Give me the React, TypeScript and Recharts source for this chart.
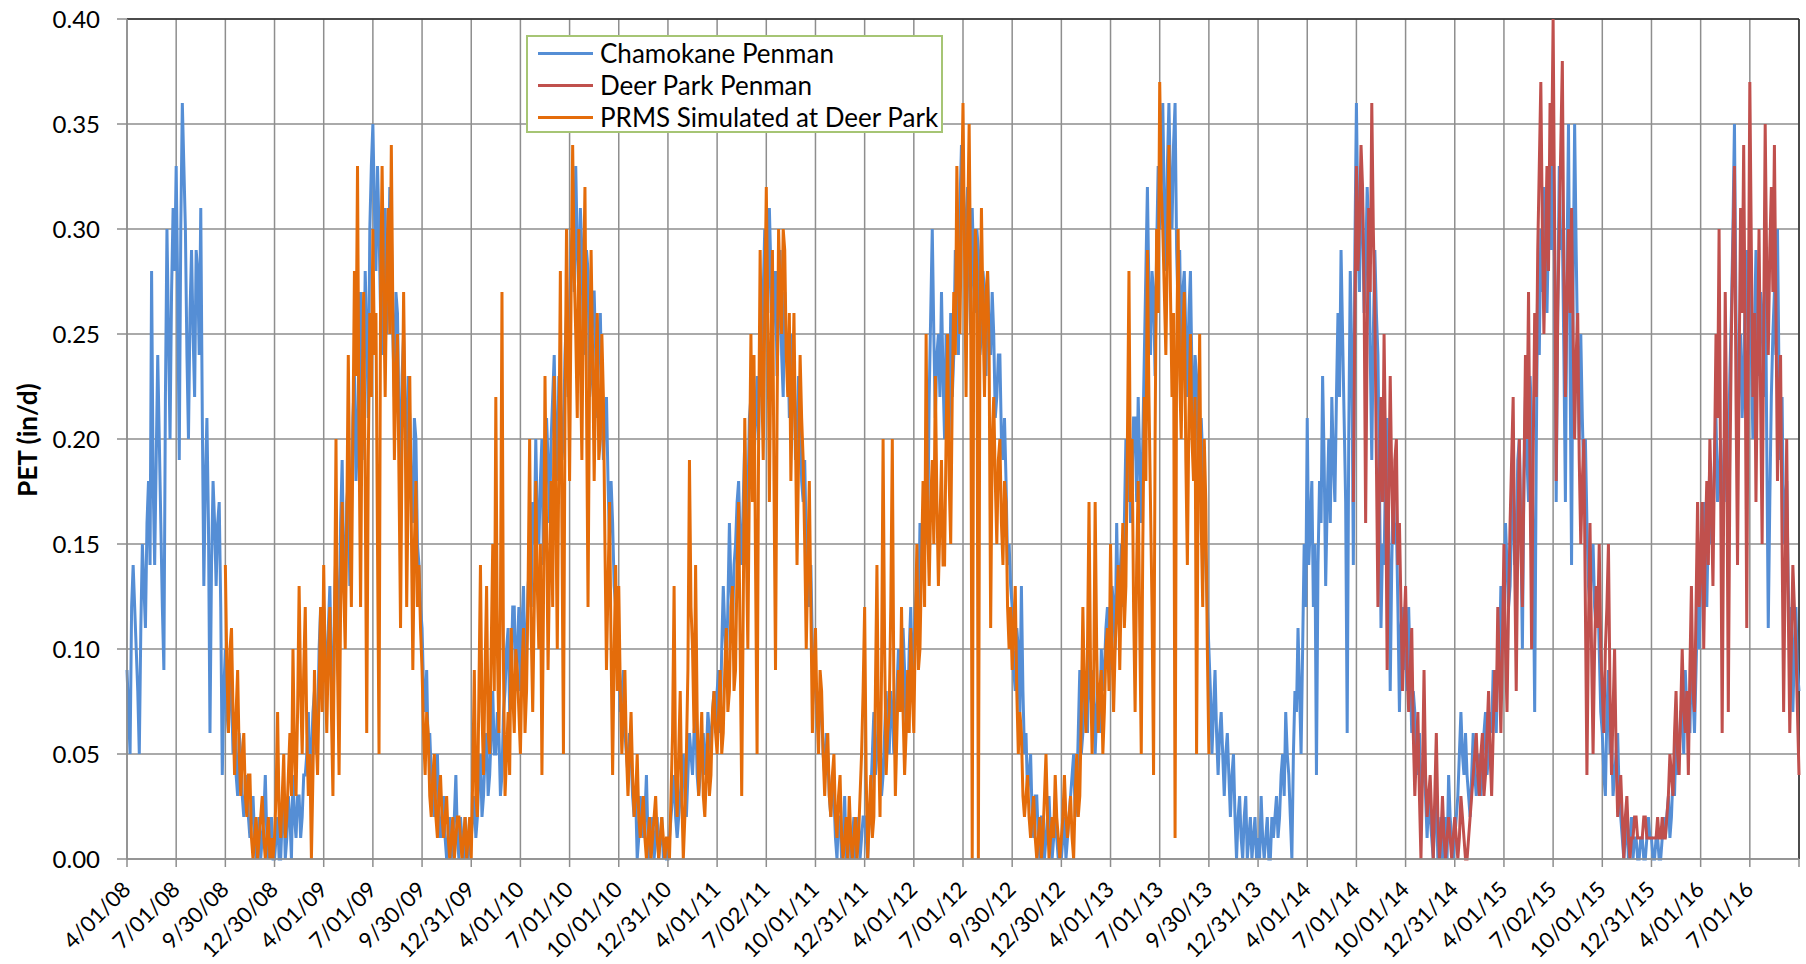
import {
  LineChart,
  Line,
  XAxis,
  YAxis,
  CartesianGrid,
  Legend,
  ReferenceLine,
  Label,
} from "recharts";

// eixo x: um tick a cada trimestre (4/01/08 ... 7/01/16), 32 pontos por trimestre
const tickLabels = [
  "4/01/08", "7/01/08", "9/30/08", "12/30/08",
  "4/01/09", "7/01/09", "9/30/09", "12/31/09",
  "4/01/10", "7/01/10", "10/01/10", "12/31/10",
  "4/01/11", "7/02/11", "10/01/11", "12/31/11",
  "4/01/12", "7/01/12", "9/30/12", "12/30/12",
  "4/01/13", "7/01/13", "9/30/13", "12/31/13",
  "4/01/14", "7/01/14", "10/01/14", "12/31/14",
  "4/01/15", "7/02/15", "10/01/15", "12/31/15",
  "4/01/16", "7/01/16",
];
const N_TICKS = 34;
const PTS_PER_TICK = 32;

const yTicks = [0, 0.05, 0.1, 0.15, 0.2, 0.25, 0.3, 0.35, 0.4];

// Chamokane Penman (in/d), uma linha por trimestre, do 4/01/08 até o fim
const chamokane = [
  0.09, 0.07, 0.05, 0.12, 0.14, 0.12, 0.10, 0.08, 0.05, 0.11, 0.15, 0.13, 0.11, 0.16, 0.18, 0.14, 0.28, 0.18, 0.14, 0.19, 0.24, 0.20, 0.16, 0.12, 0.09, 0.22, 0.30, 0.25, 0.20, 0.27, 0.31, 0.28,
  0.33, 0.27, 0.19, 0.30, 0.36, 0.33, 0.30, 0.24, 0.20, 0.26, 0.29, 0.25, 0.22, 0.29, 0.28, 0.24, 0.31, 0.21, 0.13, 0.18, 0.21, 0.16, 0.06, 0.14, 0.18, 0.16, 0.13, 0.16, 0.17, 0.12, 0.04, 0.08,
  0.10, 0.07, 0.06, 0.09, 0.08, 0.05, 0.07, 0.04, 0.03, 0.06, 0.05, 0.03, 0.02, 0.03, 0.04, 0.02, 0.01, 0.02, 0.03, 0.01, 0.00, 0.01, 0.02, 0.00, 0.01, 0.02, 0.04, 0.01, 0.00, 0.01, 0.02, 0.00,
  0.00, 0.01, 0.02, 0.00, 0.00, 0.02, 0.03, 0.00, 0.01, 0.03, 0.02, 0.00, 0.04, 0.02, 0.01, 0.03, 0.03, 0.01, 0.02, 0.04, 0.04, 0.05, 0.07, 0.04, 0.05, 0.07, 0.08, 0.05, 0.06, 0.10, 0.12, 0.08,
  0.12, 0.10, 0.08, 0.11, 0.13, 0.09, 0.06, 0.12, 0.15, 0.12, 0.10, 0.16, 0.19, 0.14, 0.12, 0.17, 0.18, 0.13, 0.16, 0.21, 0.23, 0.18, 0.20, 0.25, 0.27, 0.19, 0.22, 0.28, 0.25, 0.21, 0.30, 0.33,
  0.35, 0.31, 0.28, 0.33, 0.30, 0.26, 0.24, 0.29, 0.31, 0.25, 0.27, 0.32, 0.30, 0.25, 0.22, 0.27, 0.26, 0.21, 0.18, 0.23, 0.25, 0.21, 0.19, 0.23, 0.21, 0.17, 0.16, 0.21, 0.20, 0.15, 0.14, 0.12,
  0.11, 0.08, 0.07, 0.09, 0.05, 0.06, 0.04, 0.03, 0.02, 0.04, 0.05, 0.02, 0.01, 0.02, 0.03, 0.01, 0.00, 0.01, 0.02, 0.00, 0.01, 0.02, 0.04, 0.01, 0.00, 0.02, 0.01, 0.00, 0.02, 0.01, 0.00, 0.01,
  0.01, 0.02, 0.03, 0.01, 0.02, 0.04, 0.05, 0.02, 0.03, 0.05, 0.06, 0.03, 0.04, 0.06, 0.08, 0.05, 0.05, 0.07, 0.06, 0.03, 0.04, 0.07, 0.08, 0.10, 0.11, 0.07, 0.09, 0.12, 0.12, 0.08, 0.10, 0.12,
  0.08, 0.11, 0.13, 0.09, 0.10, 0.13, 0.14, 0.12, 0.17, 0.15, 0.20, 0.16, 0.15, 0.18, 0.20, 0.14, 0.16, 0.21, 0.19, 0.16, 0.20, 0.22, 0.24, 0.20, 0.18, 0.23, 0.22, 0.19, 0.20, 0.24, 0.26, 0.22,
  0.26, 0.29, 0.30, 0.27, 0.33, 0.29, 0.27, 0.31, 0.29, 0.24, 0.25, 0.29, 0.28, 0.22, 0.23, 0.27, 0.27, 0.24, 0.21, 0.25, 0.26, 0.22, 0.19, 0.21, 0.22, 0.18, 0.15, 0.18, 0.16, 0.13, 0.12, 0.11,
  0.10, 0.07, 0.08, 0.09, 0.06, 0.05, 0.04, 0.06, 0.05, 0.03, 0.02, 0.03, 0.00, 0.01, 0.03, 0.02, 0.01, 0.02, 0.04, 0.01, 0.00, 0.01, 0.02, 0.00, 0.01, 0.02, 0.00, 0.01, 0.02, 0.00, 0.01, 0.00,
  0.00, 0.01, 0.02, 0.03, 0.04, 0.02, 0.01, 0.02, 0.03, 0.04, 0.05, 0.03, 0.02, 0.04, 0.06, 0.05, 0.04, 0.06, 0.07, 0.04, 0.03, 0.04, 0.05, 0.06, 0.04, 0.05, 0.07, 0.06, 0.05, 0.07, 0.08, 0.06,
  0.08, 0.09, 0.06, 0.10, 0.13, 0.11, 0.09, 0.12, 0.16, 0.13, 0.11, 0.14, 0.15, 0.17, 0.18, 0.15, 0.14, 0.17, 0.20, 0.16, 0.17, 0.21, 0.22, 0.18, 0.19, 0.21, 0.23, 0.20, 0.25, 0.22, 0.27, 0.30,
  0.28, 0.26, 0.31, 0.28, 0.24, 0.27, 0.28, 0.23, 0.26, 0.29, 0.24, 0.22, 0.27, 0.24, 0.25, 0.21, 0.22, 0.25, 0.24, 0.19, 0.20, 0.23, 0.22, 0.18, 0.17, 0.19, 0.15, 0.13, 0.12, 0.14, 0.10, 0.09,
  0.08, 0.07, 0.06, 0.08, 0.07, 0.05, 0.04, 0.06, 0.05, 0.03, 0.02, 0.04, 0.03, 0.01, 0.00, 0.02, 0.02, 0.00, 0.01, 0.03, 0.00, 0.01, 0.02, 0.00, 0.01, 0.02, 0.00, 0.01, 0.02, 0.00, 0.01, 0.02,
  0.02, 0.01, 0.00, 0.02, 0.03, 0.05, 0.07, 0.04, 0.05, 0.07, 0.06, 0.03, 0.04, 0.06, 0.08, 0.06, 0.05, 0.08, 0.07, 0.05, 0.06, 0.08, 0.10, 0.07, 0.08, 0.11, 0.09, 0.06, 0.07, 0.10, 0.12, 0.09,
  0.10, 0.12, 0.13, 0.11, 0.16, 0.15, 0.14, 0.17, 0.18, 0.15, 0.22, 0.26, 0.30, 0.25, 0.21, 0.24, 0.25, 0.22, 0.27, 0.23, 0.20, 0.25, 0.23, 0.20, 0.26, 0.22, 0.24, 0.29, 0.28, 0.24, 0.31, 0.34,
  0.33, 0.29, 0.30, 0.32, 0.28, 0.25, 0.31, 0.28, 0.26, 0.30, 0.29, 0.24, 0.25, 0.28, 0.27, 0.23, 0.28, 0.25, 0.24, 0.27, 0.25, 0.21, 0.22, 0.24, 0.24, 0.20, 0.19, 0.21, 0.18, 0.14, 0.15, 0.13,
  0.12, 0.09, 0.08, 0.11, 0.10, 0.07, 0.13, 0.08, 0.05, 0.06, 0.03, 0.04, 0.05, 0.02, 0.01, 0.03, 0.03, 0.01, 0.00, 0.02, 0.02, 0.00, 0.01, 0.02, 0.03, 0.01, 0.00, 0.01, 0.02, 0.01, 0.00, 0.01,
  0.00, 0.01, 0.02, 0.00, 0.01, 0.02, 0.03, 0.04, 0.05, 0.02, 0.03, 0.06, 0.09, 0.05, 0.06, 0.08, 0.08, 0.06, 0.10, 0.08, 0.07, 0.09, 0.05, 0.07, 0.08, 0.06, 0.10, 0.08, 0.09, 0.11, 0.12, 0.10,
  0.09, 0.13, 0.12, 0.10, 0.16, 0.12, 0.13, 0.15, 0.12, 0.16, 0.20, 0.17, 0.22, 0.16, 0.18, 0.21, 0.21, 0.17, 0.22, 0.19, 0.16, 0.20, 0.24, 0.28, 0.32, 0.27, 0.24, 0.28, 0.27, 0.23, 0.29, 0.33,
  0.30, 0.33, 0.36, 0.31, 0.28, 0.33, 0.36, 0.32, 0.30, 0.34, 0.36, 0.29, 0.26, 0.29, 0.24, 0.27, 0.28, 0.25, 0.22, 0.26, 0.28, 0.23, 0.20, 0.24, 0.23, 0.19, 0.17, 0.21, 0.19, 0.16, 0.14, 0.12,
  0.10, 0.08, 0.05, 0.07, 0.09, 0.06, 0.04, 0.06, 0.07, 0.05, 0.03, 0.05, 0.06, 0.04, 0.02, 0.04, 0.05, 0.02, 0.00, 0.02, 0.03, 0.01, 0.00, 0.02, 0.03, 0.00, 0.01, 0.02, 0.00, 0.01, 0.02, 0.00,
  0.01, 0.00, 0.03, 0.01, 0.00, 0.01, 0.02, 0.00, 0.00, 0.02, 0.01, 0.02, 0.03, 0.01, 0.02, 0.04, 0.05, 0.03, 0.07, 0.05, 0.04, 0.02, 0.00, 0.05, 0.08, 0.07, 0.11, 0.08, 0.05, 0.10, 0.15, 0.12,
  0.21, 0.14, 0.16, 0.18, 0.12, 0.15, 0.04, 0.14, 0.18, 0.16, 0.23, 0.19, 0.13, 0.17, 0.20, 0.16, 0.22, 0.19, 0.17, 0.22, 0.26, 0.22, 0.29, 0.25, 0.21, 0.17, 0.06, 0.20, 0.28, 0.24, 0.14, 0.29,
  0.36, 0.30, 0.27, 0.33, 0.31, 0.26, 0.28, 0.32, 0.30, 0.24, 0.19, 0.25, 0.29, 0.26, 0.24, 0.18, 0.11, 0.15, 0.14, 0.19, 0.21, 0.15, 0.08, 0.14, 0.18, 0.15, 0.16, 0.12, 0.07, 0.11, 0.12, 0.09,
  0.10, 0.08, 0.12, 0.09, 0.06, 0.08, 0.07, 0.05, 0.04, 0.06, 0.03, 0.04, 0.05, 0.03, 0.01, 0.03, 0.02, 0.01, 0.00, 0.02, 0.03, 0.00, 0.01, 0.02, 0.00, 0.01, 0.02, 0.00, 0.04, 0.02, 0.01, 0.00,
  0.01, 0.02, 0.03, 0.05, 0.07, 0.05, 0.04, 0.06, 0.04, 0.03, 0.02, 0.04, 0.06, 0.04, 0.03, 0.04, 0.05, 0.03, 0.04, 0.06, 0.07, 0.04, 0.05, 0.07, 0.06, 0.09, 0.08, 0.06, 0.10, 0.09, 0.13, 0.10,
  0.11, 0.16, 0.14, 0.12, 0.13, 0.16, 0.18, 0.14, 0.15, 0.19, 0.20, 0.16, 0.10, 0.18, 0.22, 0.19, 0.17, 0.23, 0.21, 0.15, 0.07, 0.19, 0.28, 0.24, 0.30, 0.27, 0.32, 0.29, 0.26, 0.30, 0.33, 0.29,
  0.34, 0.28, 0.17, 0.26, 0.33, 0.29, 0.30, 0.24, 0.17, 0.28, 0.35, 0.24, 0.14, 0.27, 0.35, 0.29, 0.24, 0.20, 0.25, 0.21, 0.18, 0.20, 0.16, 0.13, 0.12, 0.14, 0.15, 0.12, 0.11, 0.13, 0.10, 0.07,
  0.06, 0.04, 0.03, 0.07, 0.09, 0.05, 0.06, 0.03, 0.04, 0.05, 0.06, 0.03, 0.02, 0.01, 0.00, 0.01, 0.02, 0.00, 0.01, 0.02, 0.00, 0.01, 0.01, 0.00, 0.00, 0.01, 0.01, 0.00, 0.00, 0.01, 0.02, 0.01,
  0.01, 0.00, 0.00, 0.01, 0.01, 0.00, 0.00, 0.01, 0.02, 0.01, 0.02, 0.03, 0.01, 0.02, 0.04, 0.03, 0.06, 0.04, 0.05, 0.07, 0.07, 0.05, 0.09, 0.07, 0.08, 0.06, 0.10, 0.08, 0.06, 0.09, 0.12, 0.10,
  0.13, 0.15, 0.17, 0.14, 0.12, 0.16, 0.19, 0.15, 0.16, 0.19, 0.21, 0.17, 0.18, 0.20, 0.14, 0.18, 0.22, 0.17, 0.19, 0.23, 0.26, 0.30, 0.35, 0.26, 0.20, 0.23, 0.25, 0.21, 0.23, 0.27, 0.29, 0.24,
  0.28, 0.24, 0.20, 0.25, 0.29, 0.25, 0.23, 0.27, 0.26, 0.22, 0.30, 0.20, 0.11, 0.17, 0.22, 0.25, 0.27, 0.24, 0.30, 0.23, 0.19, 0.22, 0.15, 0.17, 0.18, 0.13, 0.10, 0.12, 0.07, 0.10, 0.12, 0.09,
  0.08,
];

// PRMS simulado em Deer Park, começa no ponto 64 (fim de set/2008)
const PRMS_START = 64;
const prms = [
  0.14, 0.09, 0.06, 0.10, 0.11, 0.07, 0.04, 0.07, 0.09, 0.05, 0.03, 0.05, 0.06, 0.03, 0.02, 0.04, 0.04, 0.01, 0.00, 0.01, 0.02, 0.00, 0.01, 0.02, 0.03, 0.01, 0.00, 0.01, 0.02, 0.00, 0.01, 0.00,
  0.01, 0.03, 0.07, 0.02, 0.01, 0.03, 0.05, 0.01, 0.02, 0.04, 0.06, 0.03, 0.10, 0.05, 0.03, 0.07, 0.13, 0.08, 0.05, 0.09, 0.12, 0.06, 0.03, 0.05, 0.00, 0.04, 0.09, 0.06, 0.04, 0.08, 0.12, 0.07,
  0.14, 0.09, 0.06, 0.10, 0.12, 0.07, 0.03, 0.11, 0.20, 0.09, 0.04, 0.12, 0.17, 0.13, 0.10, 0.16, 0.24, 0.17, 0.12, 0.20, 0.28, 0.23, 0.33, 0.20, 0.12, 0.22, 0.27, 0.18, 0.06, 0.19, 0.26, 0.22,
  0.30, 0.24, 0.26, 0.15, 0.05, 0.27, 0.33, 0.27, 0.22, 0.28, 0.31, 0.25, 0.34, 0.26, 0.19, 0.23, 0.25, 0.18, 0.11, 0.20, 0.27, 0.21, 0.12, 0.18, 0.23, 0.16, 0.09, 0.15, 0.18, 0.12, 0.14, 0.11,
  0.09, 0.06, 0.04, 0.07, 0.06, 0.03, 0.02, 0.04, 0.05, 0.02, 0.01, 0.03, 0.04, 0.02, 0.01, 0.02, 0.03, 0.01, 0.00, 0.01, 0.02, 0.00, 0.01, 0.02, 0.02, 0.01, 0.00, 0.01, 0.02, 0.00, 0.01, 0.02,
  0.00, 0.04, 0.09, 0.03, 0.02, 0.08, 0.14, 0.07, 0.04, 0.09, 0.13, 0.06, 0.05, 0.10, 0.15, 0.08, 0.22, 0.10, 0.06, 0.12, 0.27, 0.09, 0.03, 0.05, 0.07, 0.04, 0.11, 0.08, 0.06, 0.10, 0.09, 0.07,
  0.05, 0.09, 0.11, 0.06, 0.08, 0.13, 0.20, 0.11, 0.07, 0.12, 0.18, 0.13, 0.10, 0.15, 0.04, 0.12, 0.23, 0.16, 0.09, 0.14, 0.18, 0.12, 0.23, 0.17, 0.10, 0.19, 0.28, 0.16, 0.05, 0.21, 0.30, 0.24,
  0.18, 0.27, 0.34, 0.28, 0.25, 0.21, 0.30, 0.24, 0.19, 0.27, 0.32, 0.22, 0.12, 0.23, 0.29, 0.24, 0.18, 0.23, 0.26, 0.19, 0.20, 0.25, 0.22, 0.15, 0.09, 0.13, 0.17, 0.10, 0.04, 0.10, 0.14, 0.08,
  0.13, 0.08, 0.05, 0.07, 0.09, 0.05, 0.03, 0.05, 0.07, 0.04, 0.02, 0.03, 0.05, 0.02, 0.01, 0.02, 0.03, 0.01, 0.00, 0.01, 0.02, 0.00, 0.01, 0.02, 0.03, 0.01, 0.00, 0.01, 0.02, 0.01, 0.00, 0.01,
  0.01, 0.00, 0.03, 0.06, 0.13, 0.04, 0.02, 0.05, 0.08, 0.03, 0.00, 0.02, 0.05, 0.09, 0.19, 0.12, 0.10, 0.06, 0.14, 0.07, 0.03, 0.05, 0.07, 0.03, 0.02, 0.04, 0.06, 0.03, 0.04, 0.07, 0.08, 0.06,
  0.05, 0.07, 0.09, 0.05, 0.06, 0.09, 0.11, 0.07, 0.08, 0.12, 0.13, 0.08, 0.09, 0.14, 0.17, 0.10, 0.03, 0.12, 0.21, 0.15, 0.10, 0.18, 0.25, 0.17, 0.24, 0.14, 0.05, 0.20, 0.29, 0.23, 0.19, 0.26,
  0.32, 0.26, 0.17, 0.24, 0.29, 0.18, 0.09, 0.21, 0.30, 0.27, 0.25, 0.30, 0.29, 0.24, 0.22, 0.26, 0.18, 0.22, 0.26, 0.20, 0.14, 0.19, 0.24, 0.21, 0.19, 0.15, 0.10, 0.14, 0.18, 0.12, 0.06, 0.09,
  0.11, 0.07, 0.05, 0.09, 0.08, 0.05, 0.03, 0.05, 0.06, 0.03, 0.02, 0.04, 0.05, 0.02, 0.01, 0.03, 0.04, 0.01, 0.00, 0.01, 0.02, 0.00, 0.03, 0.01, 0.00, 0.01, 0.02, 0.00, 0.01, 0.03, 0.05, 0.08,
  0.12, 0.04, 0.00, 0.02, 0.04, 0.01, 0.02, 0.08, 0.14, 0.06, 0.02, 0.09, 0.20, 0.10, 0.04, 0.06, 0.07, 0.12, 0.20, 0.08, 0.03, 0.06, 0.09, 0.07, 0.12, 0.07, 0.04, 0.06, 0.09, 0.06, 0.11, 0.08,
  0.06, 0.11, 0.15, 0.09, 0.10, 0.14, 0.18, 0.12, 0.25, 0.16, 0.13, 0.17, 0.19, 0.15, 0.23, 0.17, 0.13, 0.16, 0.19, 0.14, 0.14, 0.20, 0.25, 0.18, 0.15, 0.22, 0.27, 0.24, 0.33, 0.28, 0.25, 0.31,
  0.36, 0.29, 0.22, 0.30, 0.35, 0.27, 0.00, 0.26, 0.30, 0.28, 0.00, 0.25, 0.31, 0.26, 0.22, 0.27, 0.28, 0.24, 0.11, 0.20, 0.22, 0.18, 0.15, 0.19, 0.20, 0.16, 0.14, 0.18, 0.17, 0.12, 0.10, 0.12,
  0.09, 0.11, 0.13, 0.08, 0.05, 0.07, 0.06, 0.03, 0.02, 0.03, 0.04, 0.02, 0.01, 0.02, 0.03, 0.01, 0.00, 0.01, 0.02, 0.00, 0.01, 0.03, 0.05, 0.02, 0.00, 0.01, 0.02, 0.01, 0.04, 0.02, 0.01, 0.00,
  0.01, 0.02, 0.04, 0.02, 0.01, 0.02, 0.03, 0.01, 0.00, 0.03, 0.05, 0.02, 0.03, 0.07, 0.12, 0.08, 0.06, 0.10, 0.17, 0.09, 0.05, 0.08, 0.17, 0.10, 0.06, 0.08, 0.09, 0.05, 0.07, 0.10, 0.11, 0.08,
  0.15, 0.10, 0.07, 0.10, 0.12, 0.14, 0.09, 0.13, 0.16, 0.11, 0.13, 0.20, 0.28, 0.17, 0.20, 0.12, 0.07, 0.14, 0.18, 0.11, 0.05, 0.15, 0.22, 0.18, 0.29, 0.22, 0.17, 0.12, 0.04, 0.20, 0.30, 0.26,
  0.37, 0.32, 0.30, 0.27, 0.24, 0.29, 0.34, 0.27, 0.22, 0.26, 0.01, 0.24, 0.30, 0.23, 0.20, 0.25, 0.27, 0.19, 0.14, 0.21, 0.25, 0.20, 0.18, 0.22, 0.05, 0.18, 0.25, 0.16, 0.12, 0.20, 0.17, 0.10,
  0.05,
];

// Deer Park Penman, começa no ponto 798 (fim de jun/2014)
const DEER_START = 798;
const deerPark = [
  0.17, 0.26,
  0.33, 0.28, 0.30, 0.34, 0.32, 0.27, 0.16, 0.25, 0.31, 0.27, 0.36, 0.30, 0.26, 0.19, 0.12, 0.18, 0.22, 0.17, 0.25, 0.19, 0.09, 0.17, 0.23, 0.18, 0.15, 0.19, 0.20, 0.14, 0.16, 0.12, 0.08, 0.11,
  0.13, 0.09, 0.07, 0.09, 0.11, 0.06, 0.03, 0.05, 0.07, 0.03, 0.00, 0.04, 0.09, 0.04, 0.02, 0.03, 0.04, 0.02, 0.00, 0.03, 0.06, 0.02, 0.00, 0.01, 0.03, 0.01, 0.00, 0.01, 0.02, 0.01, 0.00, 0.01,
  0.02, 0.01, 0.00, 0.01, 0.03, 0.02, 0.01, 0.00, 0.00, 0.01, 0.02, 0.03, 0.04, 0.05, 0.06, 0.04, 0.03, 0.05, 0.06, 0.03, 0.04, 0.06, 0.08, 0.05, 0.03, 0.06, 0.09, 0.07, 0.12, 0.09, 0.06, 0.10,
  0.15, 0.10, 0.07, 0.12, 0.16, 0.19, 0.22, 0.14, 0.08, 0.15, 0.20, 0.15, 0.12, 0.18, 0.24, 0.20, 0.27, 0.18, 0.10, 0.19, 0.26, 0.22, 0.29, 0.33, 0.37, 0.30, 0.25, 0.29, 0.33, 0.28, 0.36, 0.33,
  0.40, 0.30, 0.18, 0.26, 0.30, 0.34, 0.38, 0.28, 0.22, 0.27, 0.30, 0.26, 0.31, 0.25, 0.20, 0.24, 0.26, 0.19, 0.15, 0.18, 0.20, 0.12, 0.04, 0.11, 0.16, 0.10, 0.05, 0.10, 0.13, 0.11, 0.15, 0.10,
  0.08, 0.06, 0.10, 0.12, 0.15, 0.08, 0.04, 0.07, 0.10, 0.05, 0.02, 0.03, 0.04, 0.02, 0.00, 0.02, 0.03, 0.01, 0.00, 0.01, 0.01, 0.02, 0.02, 0.01, 0.01, 0.01, 0.01, 0.02, 0.02, 0.01, 0.01, 0.01,
  0.01, 0.01, 0.01, 0.01, 0.02, 0.01, 0.01, 0.02, 0.01, 0.01, 0.02, 0.03, 0.05, 0.04, 0.03, 0.06, 0.08, 0.05, 0.04, 0.07, 0.10, 0.07, 0.06, 0.08, 0.04, 0.09, 0.13, 0.08, 0.07, 0.12, 0.17, 0.12,
  0.14, 0.17, 0.10, 0.15, 0.18, 0.14, 0.20, 0.17, 0.13, 0.19, 0.25, 0.21, 0.30, 0.18, 0.06, 0.17, 0.27, 0.20, 0.07, 0.18, 0.25, 0.29, 0.33, 0.22, 0.14, 0.23, 0.31, 0.26, 0.34, 0.24, 0.11, 0.25,
  0.37, 0.29, 0.22, 0.26, 0.17, 0.24, 0.30, 0.22, 0.15, 0.25, 0.35, 0.28, 0.24, 0.29, 0.32, 0.27, 0.34, 0.26, 0.18, 0.22, 0.24, 0.15, 0.07, 0.14, 0.20, 0.12, 0.06, 0.10, 0.14, 0.12, 0.10, 0.07,
  0.04,
];

const COR_CHAM = "#558ED5";
const COR_DEER = "#C0504D";
const COR_PRMS = "#E46C0A";
const COR_GRADE = "#8e8e8e";
const FONTE = "Lato, 'Open Sans', sans-serif";

const series = [
  { nome: "Chamokane Penman", cor: COR_CHAM },
  { nome: "Deer Park Penman", cor: COR_DEER },
  { nome: "PRMS Simulated at Deer Park", cor: COR_PRMS },
];

// monta a tabela no grid comum (x em unidades de trimestre)
const total = N_TICKS * PTS_PER_TICK + 1;
const dados = Array.from({ length: total }, (_, i) => {
  const ip = i - PRMS_START;
  const id = i - DEER_START;
  return {
    x: i / PTS_PER_TICK,
    cham: chamokane[i] ?? null,
    prms: ip >= 0 && ip < prms.length ? prms[ip] : null,
    deer: id >= 0 && id < deerPark.length ? deerPark[id] : null,
  };
});

const xTicks = Array.from({ length: N_TICKS + 1 }, (_, i) => i);

function DataTick(props: any) {
  const { x, payload } = props;
  const texto = tickLabels[payload.value];
  if (!texto) return null;
  const ex = x + 5;
  const ey = 891;
  return (
    <text
      x={ex}
      y={ey}
      textAnchor="end"
      fontSize={22}
      fill="#000"
      fontFamily={FONTE}
      transform={`rotate(-45, ${ex}, ${ey})`}
    >
      {texto}
    </text>
  );
}

function TituloY() {
  return (
    <text
      x={37}
      y={440}
      textAnchor="middle"
      fontSize={26}
      fontWeight="bold"
      fill="#000"
      fontFamily={FONTE}
      transform="rotate(-90, 37, 440)"
    >
      PET (in/d)
    </text>
  );
}

function Legenda() {
  return (
    <div
      style={{
        boxSizing: "border-box",
        width: 417,
        height: 98,
        border: "2px solid #a6c574",
        background: "#fff",
        fontFamily: FONTE,
        fontSize: 26,
        color: "#000",
      }}
    >
      {series.map((s) => (
        <div
          key={s.nome}
          style={{ display: "flex", alignItems: "center", height: 32, whiteSpace: "nowrap" }}
        >
          <span
            style={{
              display: "inline-block",
              width: 55,
              height: 3,
              marginLeft: 10,
              marginRight: 7,
              background: s.cor,
            }}
          />
          <span>{s.nome}</span>
        </div>
      ))}
    </div>
  );
}

export default function App() {
  return (
    <div style={{ position: "absolute", left: 0, top: 0, width: 1806, height: 964, background: "#fff" }}>
      <LineChart
        width={1806}
        height={964}
        data={dados}
        margin={{ top: 19, right: 7, bottom: 0, left: 0 }}
        style={{ fontFamily: FONTE }}
      >
        <CartesianGrid stroke={COR_GRADE} strokeWidth={1.5} />
        <XAxis
          dataKey="x"
          type="number"
          domain={[0, N_TICKS]}
          ticks={xTicks}
          interval={0}
          height={105}
          tick={(p: any) => <DataTick {...p} />}
          tickSize={8}
          stroke={COR_GRADE}
          axisLine={{ stroke: COR_GRADE, strokeWidth: 1.5 }}
          tickLine={{ stroke: COR_GRADE, strokeWidth: 1.5 }}
        />
        <YAxis
          type="number"
          domain={[0, 0.4]}
          ticks={yTicks}
          width={127}
          tickSize={10}
          tickMargin={17}
          tickFormatter={(v: number) => v.toFixed(2)}
          tick={{ fill: "#000", fontSize: 24, fontFamily: FONTE }}
          axisLine={{ stroke: COR_GRADE, strokeWidth: 1.5 }}
          tickLine={{ stroke: COR_GRADE, strokeWidth: 1.5 }}
        >
          <Label content={<TituloY />} />
        </YAxis>
        <ReferenceLine y={0.4} stroke="#2b2b2b" strokeWidth={1.5} />
        <ReferenceLine x={N_TICKS} stroke="#2b2b2b" strokeWidth={1.5} />
        <Line
          dataKey="cham"
          type="linear"
          stroke={COR_CHAM}
          strokeWidth={3}
          dot={false}
          isAnimationActive={false}
        />
        <Line
          dataKey="deer"
          type="linear"
          stroke={COR_DEER}
          strokeWidth={3}
          dot={false}
          isAnimationActive={false}
        />
        <Line
          dataKey="prms"
          type="linear"
          stroke={COR_PRMS}
          strokeWidth={3}
          dot={false}
          isAnimationActive={false}
        />
        <Legend
          layout="vertical"
          align="center"
          verticalAlign="middle"
          content={() => <Legenda />}
          wrapperStyle={{ left: 526, top: 35, width: 417, height: 98 }}
        />
      </LineChart>
    </div>
  );
}
